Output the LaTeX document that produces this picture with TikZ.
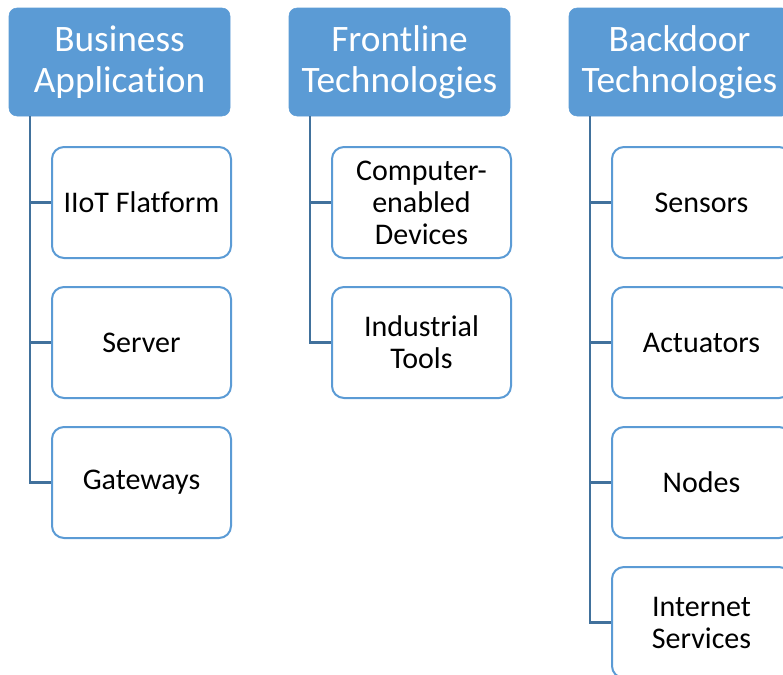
\documentclass[tikz,border=0pt]{standalone}
\usepackage{fontspec}
\setmainfont{Carlito}[Ligatures=NoCommon]
\usepackage{tikz}
\usetikzlibrary{shapes}

\definecolor{headblue}{RGB}{91,155,213}
\definecolor{linkblue}{RGB}{65,113,156}

\tikzset{
  headbox/.style={draw=headblue,fill=headblue,rounded corners=6pt,minimum width=165.75pt,minimum height=81pt,align=center,text=white,inner sep=0pt,font=\fontsize{28}{30.75}\selectfont},
  itembox/.style={draw=headblue,line width=1.5pt,fill=white,rounded corners=9pt,minimum width=134.25pt,minimum height=83.25pt,align=center,inner sep=0pt,font=\fontsize{22.5}{24}\selectfont},
  link/.style={draw=linkblue,line width=1.6pt}
}

\begin{document}
\begin{tikzpicture}[x=0.75pt,y=0.75pt,yscale=-1,xscale=1]
        \useasboundingbox (0,0) rectangle (783,675);

        %Shape: Header boxes
        \node[headbox] (ba) at (119.5,62) {Business\\Application};
        \node[headbox] (ft) at (399.5,62) {Frontline\\Technologies};
        \node[headbox] (bt) at (679.5,62) {Backdoor\\Technologies};

        %Shape: Business Application items
        \node[itembox] (ba1) at (141.5,202.5) {IIoT Flatform};
        \node[itembox] (ba2) at (141.5,342.5) {Server};
        \node[itembox] (ba3) at (141.5,482.5) {Gateways};

        %Shape: Frontline Technologies items
        \node[itembox] (ft1) at (421.5,202.5) {Computer-\\enabled\\Devices};
        \node[itembox] (ft2) at (421.5,342.5) {Industrial\\Tools};

        %Shape: Backdoor Technologies items
        \node[itembox] (bt1) at (701.5,202.5) {Sensors};
        \node[itembox] (bt2) at (701.5,342.5) {Actuators};
        \node[itembox] (bt3) at (701.5,482.5) {Nodes};
        \node[itembox] (bt4) at (701.5,622.5) {Internet\\Services};

        %Straight Lines
        \draw[link] ([xshift=15.75pt]ba.south west) |- (ba1.west);
        \draw[link] ([xshift=15.75pt]ba.south west) |- (ba2.west);
        \draw[link] ([xshift=15.75pt]ba.south west) |- (ba3.west);
        \draw[link] ([xshift=15.75pt]ft.south west) |- (ft1.west);
        \draw[link] ([xshift=15.75pt]ft.south west) |- (ft2.west);
        \draw[link] ([xshift=15.75pt]bt.south west) |- (bt1.west);
        \draw[link] ([xshift=15.75pt]bt.south west) |- (bt2.west);
        \draw[link] ([xshift=15.75pt]bt.south west) |- (bt3.west);
        \draw[link] ([xshift=15.75pt]bt.south west) |- (bt4.west);

    \end{tikzpicture}
\end{document}
